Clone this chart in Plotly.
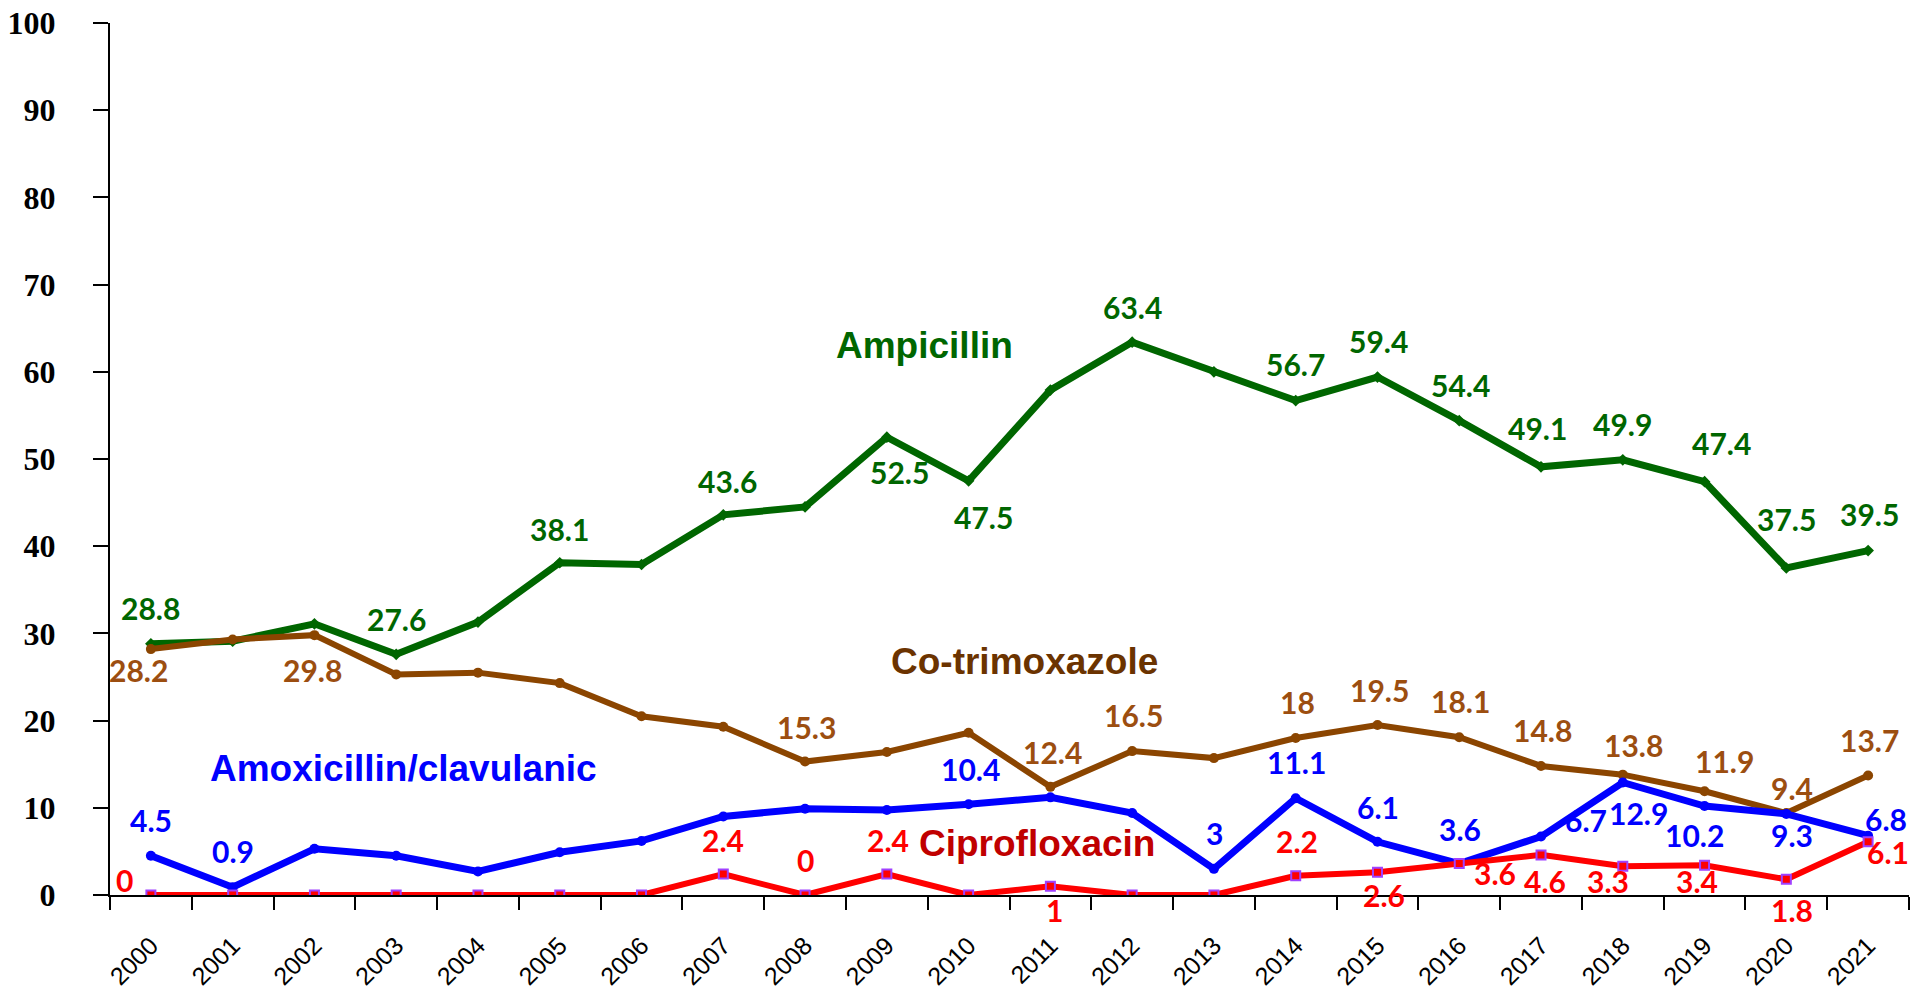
import plotly.graph_objects as go

years = [str(y) for y in range(2000, 2022)]

ampicillin = [28.8, 29.1, 31.1, 27.6, 31.3, 38.1, 37.9, 43.6, 44.5, 52.5, 47.5,
              57.9, 63.4, 60.0, 56.7, 59.4, 54.4, 49.1, 49.9, 47.4, 37.5, 39.5]
cotrimoxazole = [28.2, 29.3, 29.8, 25.3, 25.5, 24.3, 20.5, 19.3, 15.3, 16.4, 18.6,
                 12.4, 16.5, 15.7, 18, 19.5, 18.1, 14.8, 13.8, 11.9, 9.4, 13.7]
amoxiclav = [4.5, 0.9, 5.3, 4.5, 2.7, 4.9, 6.2, 9.0, 9.9, 9.75, 10.4,
             11.2, 9.4, 3, 11.1, 6.1, 3.6, 6.7, 12.9, 10.2, 9.3, 6.8]
ciprofloxacin = [0, 0, 0, 0, 0, 0, 0, 2.4, 0, 2.4, 0,
                 1, 0, 0, 2.2, 2.6, 3.6, 4.6, 3.3, 3.4, 1.8, 6.1]

y_ticks = list(range(0, 101, 10))

# label offsets (dx, dy) in screen pixels, keyed by year index; style only
amp_off = {0: (0, -36), 3: (0, -35), 5: (0, -34), 7: (4, -34), 9: (13, 35), 10: (15, 36),
           12: (0, -35), 14: (0, -37), 15: (1, -36), 16: (1, -36), 17: (-4, -39),
           18: (0, -36), 19: (17, -39), 20: (0, -49), 21: (1, -37)}
cot_off = {0: (-12, 21), 2: (-2, 35), 8: (1, -35), 11: (2, -35), 12: (1, -36), 14: (2, -36),
           15: (2, -35), 16: (1, -36), 17: (1, -36), 18: (11, -30), 19: (20, -30),
           20: (6, -25), 21: (1, -36)}
amx_off = {0: (0, -36), 1: (0, -36), 10: (2, -35), 13: (1, -36), 14: (1, -36), 15: (1, -35),
           16: (1, -35), 17: (45, -17), 18: (16, 30), 19: (-10, 29), 20: (6, 21), 21: (18, -17)}
cip_off = {0: (-26, -15), 7: (0, -34), 8: (0, -35), 9: (1, -34), 11: (4, 24), 14: (1, -35),
           15: (7, 23), 16: (36, 9), 17: (4, 26), 18: (-15, 15), 19: (-8, 16), 20: (6, 31),
           21: (20, 10)}

GREEN = "#006600"
BROWN_LINE = "#8B4500"
BROWN_TXT = "#9C4E10"
BROWN_NAME = "#6B3300"
BLUE = "#0000FF"
RED = "#FF0000"
DARKRED = "#C00000"

fig = go.Figure()
fig.add_trace(go.Scatter(x=years, y=ampicillin, mode="lines+markers",
                         line=dict(color=GREEN, width=7),
                         marker=dict(symbol="diamond", size=9, color=GREEN)))
fig.add_trace(go.Scatter(x=years, y=cotrimoxazole, mode="lines+markers",
                         line=dict(color=BROWN_LINE, width=6),
                         marker=dict(symbol="circle", size=10, color=BROWN_LINE)))
fig.add_trace(go.Scatter(x=years, y=amoxiclav, mode="lines+markers",
                         line=dict(color=BLUE, width=7),
                         marker=dict(symbol="circle", size=10, color=BLUE)))
fig.add_trace(go.Scatter(x=years, y=ciprofloxacin, mode="lines+markers",
                         line=dict(color=RED, width=6),
                         marker=dict(symbol="square", size=9, color=RED,
                                     line=dict(color="#A040FF", width=2))))

LABEL_FONT = "Lato, 'Open Sans', sans-serif"
annotations = []
for series, offs, color in [(ampicillin, amp_off, GREEN), (cotrimoxazole, cot_off, BROWN_TXT),
                            (amoxiclav, amx_off, BLUE), (ciprofloxacin, cip_off, RED)]:
    for i, (dx, dy) in offs.items():
        annotations.append(dict(x=i, y=series[i], xref="x", yref="y",
                                text=f"{series[i]:g}", showarrow=False,
                                xanchor="center", yanchor="middle",
                                xshift=dx, yshift=-dy,
                                font=dict(family=LABEL_FONT, size=30, color=color, weight="bold")))

NAME_FONT = "'Liberation Sans', Arial, sans-serif"
for text, px, py, color in [("Ampicillin", 0.4530, 0.6296, GREEN),
                            ("Co-trimoxazole", 0.5081, 0.2683, BROWN_NAME),
                            ("Amoxicillin/clavulanic", 0.1629, 0.1456, BLUE),
                            ("Ciprofloxacin", 0.5153, 0.0596, DARKRED)]:
    annotations.append(dict(x=px, y=py, xref="paper", yref="paper", text=text,
                            showarrow=False, xanchor="center", yanchor="middle",
                            font=dict(family=NAME_FONT, size=37, color=color, weight="bold")))

fig.update_layout(
    width=1915, height=994,
    margin=dict(l=110, r=6, t=23, b=99, autoexpand=False),
    plot_bgcolor="white", paper_bgcolor="white",
    showlegend=False,
    annotations=annotations,
    xaxis=dict(type="category", range=[-0.5, 21.5], tickson="boundaries",
               ticks="outside", ticklen=13, tickwidth=2, tickcolor="black",
               showline=True, linecolor="black", linewidth=2, showgrid=False,
               tickangle=-45, ticklabelstandoff=24, automargin=False,
               tickfont=dict(family="'Liberation Sans', Arial, sans-serif", size=25, color="black")),
    yaxis=dict(range=[0, 100], tickvals=y_ticks, ticks="outside", ticklen=15, tickwidth=2,
               tickcolor="black", showline=True, linecolor="black", linewidth=2,
               showgrid=False, zeroline=False, ticklabelstandoff=31, automargin=False,
               tickfont=dict(family="'Liberation Serif', 'Times New Roman', serif", size=32,
                             color="black", weight="bold")),
)

fig.write_html("out.html", config={"displayModeBar": False},
               post_script="document.body.style.margin='0';document.body.style.overflow='hidden';")
